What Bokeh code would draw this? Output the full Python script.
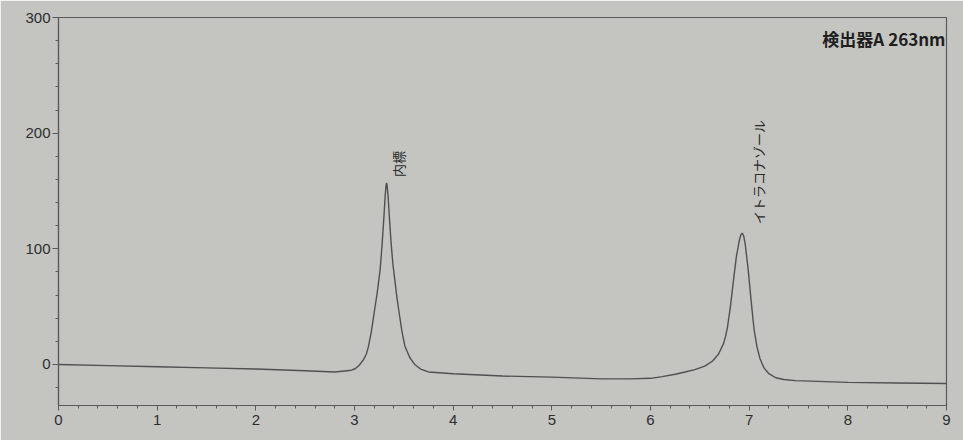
from bokeh.plotting import figure
from bokeh.models import FixedTicker, Label, ColumnDataSource, Range1d
from bokeh.core.properties import value
from bokeh.embed import file_html
from bokeh.resources import INLINE
import math

# retention time (min) and detector signal (mAU)
time_min = [0.0, 0.5, 1.0, 1.5, 2.0, 2.5, 2.8, 2.97, 3.01, 3.05, 3.09, 3.12, 3.14, 3.17,
            3.20, 3.23, 3.26, 3.28, 3.30, 3.31, 3.32, 3.325, 3.33, 3.34, 3.35, 3.37, 3.39,
            3.41, 3.43, 3.45, 3.48, 3.51, 3.56, 3.61, 3.67, 3.75, 4.0, 4.5, 5.0, 5.5, 5.8,
            6.0, 6.12, 6.25, 6.35, 6.45, 6.55, 6.63, 6.69, 6.74, 6.76, 6.78, 6.81, 6.84,
            6.87, 6.90, 6.915, 6.93, 6.945, 6.96, 6.99, 7.02, 7.05, 7.08, 7.11, 7.15, 7.20,
            7.27, 7.35, 7.47, 8.0, 8.5, 9.0]
signal = [0.0, -1.0, -2.0, -3.0, -4.0, -5.5, -6.5, -5.0, -3.5, -0.5, 4.0, 9.0, 15.0, 28.0,
          45.0, 62.0, 82.0, 104.0, 130.0, 145.0, 155.0, 157.0, 155.0, 146.0, 132.0, 106.0, 86.0,
          72.0, 58.0, 46.0, 29.0, 16.0, 6.0, 0.0, -4.0, -6.5, -8.0, -10.0, -11.0, -12.5, -12.5,
          -12.0, -10.5, -8.5, -6.5, -4.5, -1.5, 3.0, 9.0, 18.0, 24.0, 32.0, 50.0, 72.0,
          93.0, 107.0, 112.0, 113.5, 111.0, 104.0, 82.0, 55.0, 30.0, 15.0, 5.0, -3.0, -8.0,
          -11.5, -13.0, -14.0, -15.5, -16.0, -16.5]

peak_names = ["内標", "イトラコナゾール"]
peak_times = [3.325, 6.93]
peak_heights = [157.0, 113.5]
label_gap = [5.0, 8.0]

x_ticks = [0, 1, 2, 3, 4, 5, 6, 7, 8, 9]
y_ticks = [0, 100, 200, 300]
detector_label = "検出器A 263nm"

BG = "#c4c5c1"
INK = "#2e2e2e"

p = figure(width=963, height=440, output_backend="svg", toolbar_location=None,
           x_range=Range1d(0, 9), y_range=Range1d(-35.5, 300),
           min_border_left=58, min_border_right=17, min_border_top=17, min_border_bottom=35)
p.background_fill_color = BG
p.border_fill_color = BG
p.outline_line_color = "#5a5a5a"
p.outline_line_width = 1.2
p.grid.visible = False

p.line(time_min, signal, line_color="#505050", line_width=1.4)

src = ColumnDataSource(dict(x=peak_times,
                            y=[h + g for h, g in zip(peak_heights, label_gap)],
                            t=peak_names, xo=[12, 16]))
p.text(x="x", y="y", text="t", x_offset="xo", source=src, angle=math.pi / 2,
       text_align="left", text_baseline="middle", text_font=value("Noto Sans CJK JP"),
       text_font_size="13px", text_color="#2a2a2a")

p.add_layout(Label(x=9, y=282, x_offset=-1, text=detector_label,
                   text_align="right", text_baseline="middle",
                   text_font="Noto Sans CJK JP", text_font_size="17px",
                   text_font_style="bold", text_color="#1e1e1e"))

for ax in (p.xaxis[0], p.yaxis[0]):
    ax.axis_line_color = "#5a5a5a"
    ax.axis_line_width = 1.2
    ax.major_tick_line_color = "#5a5a5a"
    ax.minor_tick_line_color = "#5a5a5a"
    ax.major_label_text_color = INK
    ax.major_label_text_font = "Liberation Sans"
    ax.major_label_text_font_size = "15px"
    ax.major_tick_in = 0
    ax.minor_tick_in = 0

p.xaxis.ticker = FixedTicker(ticks=x_ticks,
                             minor_ticks=[i * 0.2 for i in range(46)])
p.xaxis.major_tick_out = 5
p.xaxis.minor_tick_out = 3
p.xaxis.major_label_standoff = 4

p.yaxis.ticker = FixedTicker(ticks=y_ticks,
                             minor_ticks=[-20 + 20 * i for i in range(17)])
p.yaxis.major_tick_out = 6
p.yaxis.minor_tick_out = 3
p.yaxis.major_label_standoff = 2

open("out.html", "w").write(file_html(p, INLINE))
